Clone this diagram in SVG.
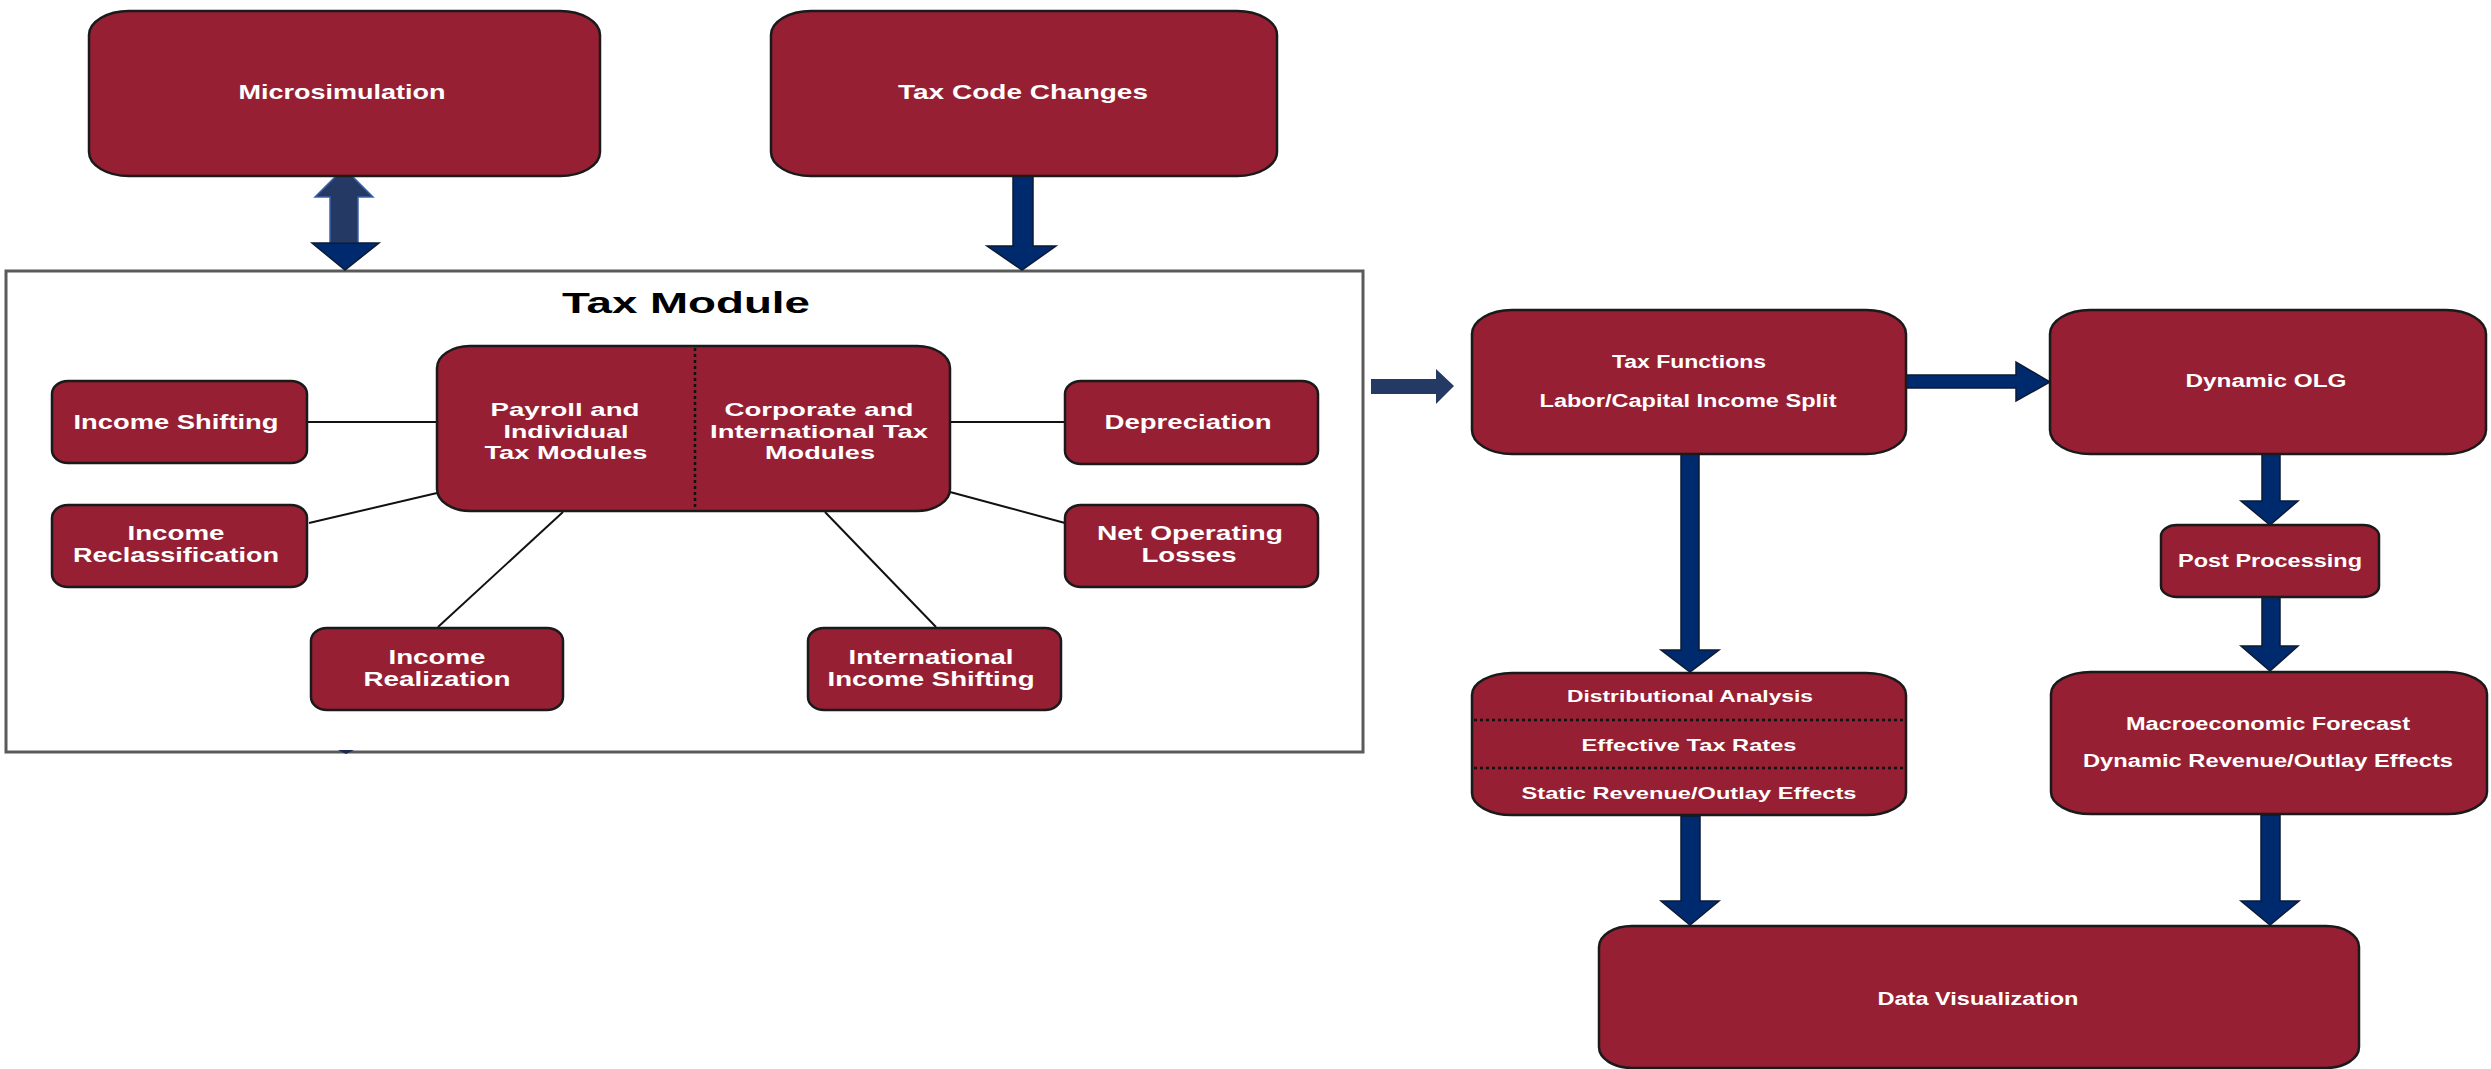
<svg xmlns="http://www.w3.org/2000/svg" width="2491" height="1069" viewBox="0 0 2491 1069">
<style>
.box{fill:#961f33;stroke:#1a1a1a;stroke-width:2.5}
.t{fill:#ffffff;font-family:"Liberation Sans",Arial,sans-serif;font-weight:bold;text-anchor:middle}
.f21{font-size:21px}.f20{font-size:20px}.f19{font-size:19px}.f18{font-size:18px}.f17{font-size:17px}
.title{fill:#000000;font-family:"Liberation Sans",Arial,sans-serif;font-weight:bold;font-size:30px;text-anchor:middle}
.frame{fill:#ffffff;stroke:#5a5a5a;stroke-width:3}
.navy{fill:#002a6e;stroke:#0d1a33;stroke-width:1.5}
.slate{fill:#243a64;stroke:#3c62a6;stroke-width:1.5}
.link{stroke:#111111;stroke-width:2;fill:none}
.dots{stroke:#111111;stroke-width:2.5;stroke-dasharray:3 3;fill:none}
</style>
<rect width="2491" height="1069" fill="#ffffff"/>

<g id="tax-module-frame">
<rect class="frame" x="6" y="271" width="1357" height="481"/>
<text class="title" x="686" y="313" textLength="248" lengthAdjust="spacingAndGlyphs">Tax Module</text>
<polygon points="338,750 354,750 346,754" fill="#1a2a50"/>
</g>

<g id="connectors">
<polygon class="slate" points="344,168 373,197 358,197 358,243 330,243 330,197 315,197"/>
<polygon class="navy" points="312,243 379,243 345,270"/>
<polygon class="navy" points="1013,176 1033,176 1033,246 1056,246 1022,270 987,246 1013,246"/>
<polygon fill="#243a64" points="1371,379 1436,379 1436,369 1454,386 1436,404 1436,394 1371,394"/>
<polygon class="navy" points="1906,375 2016,375 2016,362 2050,382 2016,401 2016,388 1906,388"/>
<polygon class="navy" points="2262,454 2280,454 2280,501 2298,501 2270,525 2241,501 2262,501"/>
<polygon class="navy" points="2262,597 2280,597 2280,646 2298,646 2270,671 2241,646 2262,646"/>
<polygon class="navy" points="1681,454 1699,454 1699,650 1719,650 1690,672 1661,650 1681,650"/>
<polygon class="navy" points="1681,816 1700,816 1700,901 1719,901 1690,925 1661,901 1681,901"/>
<polygon class="navy" points="2261,815 2280,815 2280,901 2299,901 2270,925 2241,901 2261,901"/>
<line class="link" x1="307" y1="422" x2="437" y2="422"/>
<line class="link" x1="950" y1="422" x2="1065" y2="422"/>
<line class="link" x1="309" y1="523" x2="437" y2="493"/>
<line class="link" x1="950" y1="492" x2="1065" y2="523"/>
<line class="link" x1="563" y1="512" x2="438" y2="627"/>
<line class="link" x1="825" y1="512" x2="936" y2="627"/>
</g>

<g id="microsimulation">
<rect class="box" x="89" y="11" width="511" height="165" rx="40" ry="24"/>
<text class="t f21" x="342" y="99" textLength="207" lengthAdjust="spacingAndGlyphs">Microsimulation</text>
</g>

<g id="tax-code-changes">
<rect class="box" x="771" y="11" width="506" height="165" rx="40" ry="24"/>
<text class="t f21" x="1023" y="99" textLength="250" lengthAdjust="spacingAndGlyphs">Tax Code Changes</text>
</g>

<g id="core-tax-modules">
<rect class="box" x="437" y="346" width="513" height="165" rx="33" ry="22"/>
<line class="dots" x1="695" y1="348" x2="695" y2="510"/>
<text class="t f19" x="565" y="416" textLength="149" lengthAdjust="spacingAndGlyphs">Payroll and</text>
<text class="t f19" x="566" y="438" textLength="125" lengthAdjust="spacingAndGlyphs">Individual</text>
<text class="t f19" x="566" y="459" textLength="163" lengthAdjust="spacingAndGlyphs">Tax Modules</text>
<text class="t f19" x="819" y="416" textLength="189" lengthAdjust="spacingAndGlyphs">Corporate and</text>
<text class="t f19" x="819" y="438" textLength="218" lengthAdjust="spacingAndGlyphs">International Tax</text>
<text class="t f19" x="820" y="459" textLength="110" lengthAdjust="spacingAndGlyphs">Modules</text>
</g>

<g id="income-shifting">
<rect class="box" x="52" y="381" width="255" height="82" rx="16" ry="13"/>
<text class="t f20" x="176" y="429" textLength="205" lengthAdjust="spacingAndGlyphs">Income Shifting</text>
</g>

<g id="income-reclassification">
<rect class="box" x="52" y="505" width="255" height="82" rx="16" ry="13"/>
<text class="t f20" x="176" y="540" textLength="97" lengthAdjust="spacingAndGlyphs">Income</text>
<text class="t f20" x="176" y="562" textLength="206" lengthAdjust="spacingAndGlyphs">Reclassification</text>
</g>

<g id="income-realization">
<rect class="box" x="311" y="628" width="252" height="82" rx="16" ry="13"/>
<text class="t f20" x="437" y="664" textLength="97" lengthAdjust="spacingAndGlyphs">Income</text>
<text class="t f20" x="437" y="686" textLength="147" lengthAdjust="spacingAndGlyphs">Realization</text>
</g>

<g id="international-income-shifting">
<rect class="box" x="808" y="628" width="253" height="82" rx="16" ry="13"/>
<text class="t f20" x="931" y="664" textLength="165" lengthAdjust="spacingAndGlyphs">International</text>
<text class="t f20" x="931" y="686" textLength="207" lengthAdjust="spacingAndGlyphs">Income Shifting</text>
</g>

<g id="depreciation">
<rect class="box" x="1065" y="381" width="253" height="83" rx="16" ry="13"/>
<text class="t f20" x="1188" y="429" textLength="167" lengthAdjust="spacingAndGlyphs">Depreciation</text>
</g>

<g id="net-operating-losses">
<rect class="box" x="1065" y="505" width="253" height="82" rx="16" ry="13"/>
<text class="t f20" x="1190" y="540" textLength="186" lengthAdjust="spacingAndGlyphs">Net Operating</text>
<text class="t f20" x="1189" y="562" textLength="95" lengthAdjust="spacingAndGlyphs">Losses</text>
</g>

<g id="tax-functions">
<rect class="box" x="1472" y="310" width="434" height="144" rx="40" ry="24"/>
<text class="t f18" x="1689" y="368" textLength="154" lengthAdjust="spacingAndGlyphs">Tax Functions</text>
<text class="t f18" x="1688" y="407" textLength="297" lengthAdjust="spacingAndGlyphs">Labor/Capital Income Split</text>
</g>

<g id="dynamic-olg">
<rect class="box" x="2050" y="310" width="436" height="144" rx="40" ry="24"/>
<text class="t f18" x="2266" y="387" textLength="161" lengthAdjust="spacingAndGlyphs">Dynamic OLG</text>
</g>

<g id="post-processing">
<rect class="box" x="2161" y="525" width="218" height="72" rx="16" ry="11"/>
<text class="t f18" x="2270" y="567" textLength="184" lengthAdjust="spacingAndGlyphs">Post Processing</text>
</g>

<g id="distributional-analysis">
<rect class="box" x="1472" y="673" width="434" height="142" rx="40" ry="22"/>
<line class="dots" x1="1474" y1="720" x2="1904" y2="720"/>
<line class="dots" x1="1474" y1="768" x2="1904" y2="768"/>
<text class="t f17" x="1690" y="702" textLength="246" lengthAdjust="spacingAndGlyphs">Distributional Analysis</text>
<text class="t f17" x="1689" y="751" textLength="215" lengthAdjust="spacingAndGlyphs">Effective Tax Rates</text>
<text class="t f17" x="1689" y="799" textLength="335" lengthAdjust="spacingAndGlyphs">Static Revenue/Outlay Effects</text>
</g>

<g id="macroeconomic-forecast">
<rect class="box" x="2051" y="672" width="436" height="142" rx="40" ry="22"/>
<text class="t f18" x="2268" y="730" textLength="284" lengthAdjust="spacingAndGlyphs">Macroeconomic Forecast</text>
<text class="t f18" x="2268" y="767" textLength="370" lengthAdjust="spacingAndGlyphs">Dynamic Revenue/Outlay Effects</text>
</g>

<g id="data-visualization">
<rect class="box" x="1599" y="926" width="760" height="142" rx="33" ry="21"/>
<text class="t f18" x="1978" y="1005" textLength="201" lengthAdjust="spacingAndGlyphs">Data Visualization</text>
</g>
</svg>
